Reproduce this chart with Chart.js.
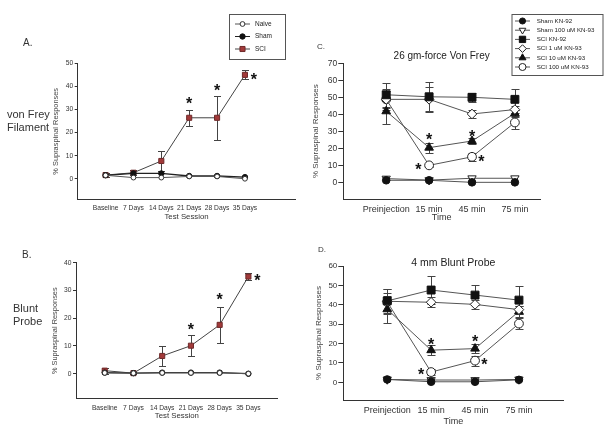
<!DOCTYPE html>
<html><head><meta charset="utf-8">
<script src="https://cdn.jsdelivr.net/npm/chart.js@4.4.1/dist/chart.umd.min.js"></script>
<style>
html,body{margin:0;padding:0;background:#fff;width:613px;height:435px;overflow:hidden;font-family:"Liberation Sans",Arial,sans-serif;}
#wrap{position:relative;width:613px;height:435px;}
canvas{position:absolute;}
.lbl{position:absolute;color:#333;white-space:nowrap;}
</style></head><body>
<div id="wrap">
<canvas id="cA" width="300" height="225" style="left:0;top:0"></canvas>
<canvas id="cB" width="300" height="213" style="left:0;top:222px"></canvas>
<canvas id="cC" width="313" height="225" style="left:300px;top:0"></canvas>
<canvas id="cD" width="313" height="213" style="left:300px;top:222px"></canvas>
<div class="lbl" style="left:23px;top:38px;font-size:10px;line-height:10px">A.</div>
<div class="lbl" style="left:7px;top:108px;font-size:11px;line-height:13px">von Frey<br>Filament</div>
<div class="lbl" style="left:22px;top:250px;font-size:10px;line-height:10px">B.</div>
<div class="lbl" style="left:13px;top:302px;font-size:11px;line-height:13px">Blunt<br>Probe</div>
<div class="lbl" style="left:317px;top:42px;font-size:8px;line-height:9px">C.</div>
<div class="lbl" style="left:318px;top:245px;font-size:8px;line-height:9px">D.</div>
</div>
<script>
// ---------- data ----------
const sessionLabels = ['Baseline','7 Days','14 Days','21 Days','28 Days','35 Days'];
const timeLabels = ['Preinjection','15 min','45 min','75 min'];
const yTicksA = [0,10,20,30,40,50];
const yTicksB = [0,10,20,30,40];
const yTicksC = [0,10,20,30,40,50,60,70];
const yTicksD = [0,10,20,30,40,50,60];

const naiveA  = [1.5,0.5,0.5,1.0,1.0,0.0];
const shamA   = [1.5,2.3,2.3,1.2,1.2,0.7];
const sciA    = [1.6,2.6,7.7,26.4,26.4,45.0];
const sciAErr = [1.0,1.0,4.4,3.4,9.6,2.0];
const starsA  = [[3,34.4],[4,39.9],[5.32,44.8]];

const naiveB  = [0.3,0.2,0.3,0.3,0.3,0.0];
const shamB   = [0.4,0.2,0.4,0.4,0.4,0.0];
const sciB    = [1.1,0.2,6.4,10.1,17.6,35.0];
const sciBErr = [1.1,0.3,3.5,3.7,6.5,1.4];
const starsB  = [[3,17.5],[4,28.1],[5.31,35.2]];

const shamKN92C   = [1.2,1.2,0.0,0.0];
const sham100C    = [2.2,1.3,2.4,2.4];
const sciKN92C    = [51.5,50.3,50.0,48.8];
const sciKN92CErr = [7.0,8.5,2.5,6.0];
const sci1C       = [48.8,48.8,40.2,42.8];
const sci1CErr    = [6.0,7.3,2.5,2.0];
const sci10C      = [41.8,20.4,24.3,40.6];
const sci10CErr   = [7.5,3.0,2.0,2.0];
const sci100C     = [48.8,10.0,15.0,35.2];
const sci100CErr  = [5.0,1.0,2.5,3.8];
const starsC      = [[1,27.4],[0.75,10],[2,29.2],[2.22,14.7]];

const shamKN92D   = [1.5,0.3,0.3,1.3];
const sham100D    = [1.5,1.2,1.2,1.5];
const sciKN92D    = [42.0,47.6,45.0,42.4];
const sciKN92DErr = [6.0,7.2,5.2,7.2];
const sci1D       = [41.8,41.3,40.2,37.5];
const sci1DErr    = [4.5,2.6,2.5,2.0];
const sci10D      = [37.7,16.6,17.4,36.6];
const sci10DErr   = [7.0,2.5,2.2,3.0];
const sci100D     = [41.5,5.3,11.2,30.3];
const sci100DErr  = [6.5,1.5,2.6,3.0];
const starsD      = [[1,21.4],[0.77,6],[2,23],[2.21,11.1]];

// ---------- drawing ----------
const FONT = '"Liberation Sans", Arial, sans-serif';
Chart.defaults.font.family = FONT;

function drawMarker(ctx, style, x, y, r, rot) {
  ctx.beginPath();
  if (style === 'circle') { ctx.arc(x, y, r, 0, Math.PI * 2); }
  else if (style === 'rect') { const s = r * Math.SQRT1_2; ctx.rect(x - s, y - s, 2 * s, 2 * s); }
  else if (style === 'rectRot') { ctx.moveTo(x - r, y); ctx.lineTo(x, y - r); ctx.lineTo(x + r, y); ctx.lineTo(x, y + r); ctx.closePath(); }
  else if (style === 'triangle') {
    let a = (rot || 0) * Math.PI / 180;
    for (let k = 0; k < 3; k++) { const px = x + Math.sin(a) * r, py = y - Math.cos(a) * r; if (k) ctx.lineTo(px, py); else ctx.moveTo(px, py); a += 2 * Math.PI / 3; }
    ctx.closePath();
  }
  ctx.fill(); ctx.stroke();
}

function makeExtras(o) {
  return {
    id: 'extras',
    beforeDatasetsDraw(chart) {
      const {ctx} = chart, xs = chart.scales.x, ys = chart.scales.y;
      ctx.save();
      ctx.strokeStyle = o.errColor; ctx.lineWidth = 1;
      chart.data.datasets.forEach(ds => {
        if (!ds.err) return;
        ds.data.forEach((p, i) => {
          const e = ds.err[i]; if (!e) return;
          const x = Math.round(xs.getPixelForValue(p.x)) + 0.5;
          const y1 = Math.round(ys.getPixelForValue(p.y + e)) + 0.5, y2 = Math.round(ys.getPixelForValue(p.y - e)) + 0.5;
          const c = o.cap;
          ctx.beginPath();
          ctx.moveTo(x, y1); ctx.lineTo(x, y2);
          ctx.moveTo(x - c, y1); ctx.lineTo(x + c, y1);
          ctx.moveTo(x - c, y2); ctx.lineTo(x + c, y2);
          ctx.stroke();
        });
      });
      ctx.restore();
    },
    afterDraw(chart) {
      const {ctx} = chart, xs = chart.scales.x, ys = chart.scales.y;
      ctx.save();
      ctx.fillStyle = '#111'; ctx.textAlign = 'center'; ctx.textBaseline = 'alphabetic';
      const fs = o.starSize;
      ctx.font = 'bold ' + fs + 'px ' + FONT;
      o.stars.forEach(([sx, sy]) => {
        ctx.fillText('*', xs.getPixelForValue(sx), ys.getPixelForValue(sy) + 0.6 * fs);
      });
      ctx.restore();
      const L = o.legend;
      if (!L) return;
      ctx.save();
      ctx.strokeStyle = '#555'; ctx.lineWidth = 1;
      ctx.strokeRect(L.box[0] + 0.5, L.box[1] + 0.5, L.box[2], L.box[3]);
      ctx.font = L.font + 'px ' + FONT; ctx.textBaseline = 'middle'; ctx.textAlign = 'left';
      chart.data.datasets.forEach((ds, i) => {
        const y = L.y0 + i * L.dy;
        ctx.strokeStyle = ds.borderColor; ctx.lineWidth = 1;
        ctx.beginPath(); ctx.moveTo(L.x1, y); ctx.lineTo(L.x2, y); ctx.stroke();
        ctx.fillStyle = ds.pointBackgroundColor; ctx.strokeStyle = ds.pointBorderColor; ctx.lineWidth = 1;
        drawMarker(ctx, ds.pointStyle, (L.x1 + L.x2) / 2, y, ds.pointRadius * L.scale, ds.pointRotation);
        ctx.fillStyle = '#222'; ctx.fillText(ds.label, L.tx, y);
      });
      ctx.restore();
    }
  };
}

function panel(id, p) {
  const plugins = {legend: {display: false}, tooltip: {enabled: false}};
  if (p.title) {
    plugins.title = {display: true, text: p.title, fullSize: false, color: '#222',
      font: {size: p.titleSize, weight: 'normal'}, padding: {top: p.titlePad[0], bottom: p.titlePad[1]}};
  }
  return new Chart(document.getElementById(id), {
    type: 'line',
    data: {datasets: p.series.map(s => ({
      label: s.label,
      data: s.values.map((v, i) => ({x: i, y: v})),
      err: s.err || null,
      borderColor: s.line, borderWidth: s.lw || 1,
      pointStyle: s.style, pointRadius: s.r, pointRotation: s.rot || 0,
      pointBackgroundColor: s.fill, pointBorderColor: s.stroke, pointBorderWidth: 1,
      pointHoverRadius: s.r, tension: 0, fill: false
    }))},
    options: {
      responsive: false, animation: false, events: [],
      layout: {padding: {left: 0, top: p.padTop, right: p.W - p.area.right, bottom: 0}},
      plugins: plugins,
      scales: {
        x: {
          type: 'linear', min: -1, max: p.xMax,
          afterBuildTicks: s => { s.ticks = p.cats.map((c, i) => ({value: i})); },
          afterFit: s => { s.height = p.H - p.area.bottom; },
          grid: {display: true, drawOnChartArea: false, drawTicks: false},
          border: {display: true, color: '#333', width: 1},
          ticks: {autoSkip: false, maxRotation: 0, padding: p.xTickPad, color: '#333',
            font: {size: p.xTickSize}, callback: v => p.cats[v] !== undefined ? p.cats[v] : ''},
          title: {display: true, text: p.xTitle, color: '#333', font: {size: p.xTitleSize},
            padding: {top: 0, bottom: p.xTitlePad}}
        },
        y: {
          type: 'linear', min: p.yMin, max: p.yMax,
          afterBuildTicks: s => { s.ticks = p.yTicks.map(v => ({value: v})); },
          afterFit: s => { s.width = p.area.left; },
          grid: {display: true, drawOnChartArea: false, drawTicks: true, tickLength: p.tickLen, color: '#333'},
          border: {display: true, color: '#333', width: 1},
          ticks: {padding: p.yTickPad, color: '#333', font: {size: p.yTickSize}},
          title: {display: true, text: '% Supraspinal Responses', color: '#444', font: {size: p.yTitleSize},
            padding: {top: p.yTitlePad, bottom: 0}}
        }
      }
    },
    plugins: [makeExtras(p.extras)]
  });
}

const RED = '#a23a3a';
function seriesAB(naive, sham, sci, sciErr) {
  return [
    {label: 'Naive', values: naive, line: '#555', lw: 1, style: 'circle', r: 2.4, fill: '#fff', stroke: '#333'},
    {label: 'Sham', values: sham, line: '#222', lw: 1.3, style: 'circle', r: 2.7, fill: '#111', stroke: '#111'},
    {label: 'SCI', values: sci, err: sciErr, line: '#444', lw: 1, style: 'rect', r: 3.6, fill: RED, stroke: '#6e2a2a'}
  ];
}
function seriesCD(s1, s2, s3, e3, s4, e4, s5, e5, s6, e6) {
  return [
    {label: 'Sham KN-92', values: s1, line: '#555', style: 'circle', r: 3.8, fill: '#111', stroke: '#111'},
    {label: 'Sham 100 uM KN-93', values: s2, line: '#555', style: 'triangle', rot: 180, r: 4.8, fill: '#fff', stroke: '#222'},
    {label: 'SCI KN-92', values: s3, err: e3, line: '#555', style: 'rect', r: 5.6, fill: '#111', stroke: '#111'},
    {label: 'SCI 1 uM KN-93', values: s4, err: e4, line: '#555', style: 'rectRot', r: 4.8, fill: '#fff', stroke: '#222'},
    {label: 'SCI 10 uM KN-93', values: s5, err: e5, line: '#555', style: 'triangle', r: 5.0, fill: '#111', stroke: '#111'},
    {label: 'SCI 100 uM KN-93', values: s6, err: e6, line: '#555', style: 'circle', r: 4.4, fill: '#fff', stroke: '#222'}
  ];
}

panel('cA', {
  W: 300, H: 225, area: {left: 77.7, top: 63.3, right: 299, bottom: 199.3}, padTop: 63.3,
  xMax: 6.81, yMin: -8.9, yMax: 50, yTicks: yTicksA, cats: sessionLabels,
  xTitle: 'Test Session', xTitleSize: 7.8, xTitlePad: 3.8, xTickSize: 6.7, xTickPad: 5,
  yTickSize: 6.7, yTickPad: 1.5, tickLen: 3, yTitleSize: 7.4, yTitlePad: 51.6,
  series: seriesAB(naiveA, shamA, sciA, sciAErr),
  extras: {errColor: '#444', cap: 3.5, stars: starsA, starSize: 16,
    legend: {box: [229, 14, 56, 45], y0: 24, dy: 12.5, x1: 235, x2: 250, tx: 255, font: 6.5, scale: 1}}
});

panel('cB', {
  W: 300, H: 213, area: {left: 76, top: 40.7, right: 277.7, bottom: 176.7}, padTop: 40.7,
  xMax: 6.02, yMin: -9, yMax: 40, yTicks: yTicksB, cats: sessionLabels,
  xTitle: 'Test Session', xTitleSize: 7.8, xTitlePad: 14.3, xTickSize: 6.7, xTickPad: 5,
  yTickSize: 6.7, yTickPad: 1.5, tickLen: 3, yTitleSize: 7.4, yTitlePad: 50.6,
  series: seriesAB(naiveB, shamB, sciB, sciBErr),
  extras: {errColor: '#444', cap: 3.5, stars: starsB, starSize: 16, legend: null}
});

panel('cC', {
  W: 313, H: 225, area: {left: 43.3, top: 63.3, right: 240, bottom: 199}, padTop: 0,
  title: '26 gm-force Von Frey', titleSize: 10, titlePad: [50, 1.3],
  xMax: 3.585, yMin: -9.8, yMax: 70, yTicks: yTicksC, cats: timeLabels,
  xTitle: 'Time', xTitleSize: 9, xTitlePad: 2.1, xTickSize: 9, xTickPad: 4.9,
  yTickSize: 8.5, yTickPad: 1, tickLen: 5, yTitleSize: 8, yTitlePad: 11.2,
  series: seriesCD(shamKN92C, sham100C, sciKN92C, sciKN92CErr, sci1C, sci1CErr, sci10C, sci10CErr, sci100C, sci100CErr),
  extras: {errColor: '#444', cap: 4, stars: starsC, starSize: 16,
    legend: {box: [211.5, 14, 91, 61], y0: 21, dy: 9.2, x1: 215, x2: 230, tx: 236.7, font: 6.2, scale: 0.8}}
});

panel('cD', {
  W: 313, H: 213, area: {left: 43.3, top: 44, right: 263.3, bottom: 178}, padTop: 0,
  title: '4 mm Blunt Probe', titleSize: 10.5, titlePad: [35, -3.6],
  xMax: 4.01, yMin: -9.1, yMax: 60, yTicks: yTicksD, cats: timeLabels,
  xTitle: 'Time', xTitleSize: 9, xTitlePad: 7.9, xTickSize: 9, xTickPad: 5.6,
  yTickSize: 8, yTickPad: 1, tickLen: 5, yTitleSize: 8, yTitlePad: 13.5,
  series: seriesCD(shamKN92D, sham100D, sciKN92D, sciKN92DErr, sci1D, sci1DErr, sci10D, sci10DErr, sci100D, sci100DErr),
  extras: {errColor: '#444', cap: 4, stars: starsD, starSize: 16, legend: null}
});
</script>
</body></html>
